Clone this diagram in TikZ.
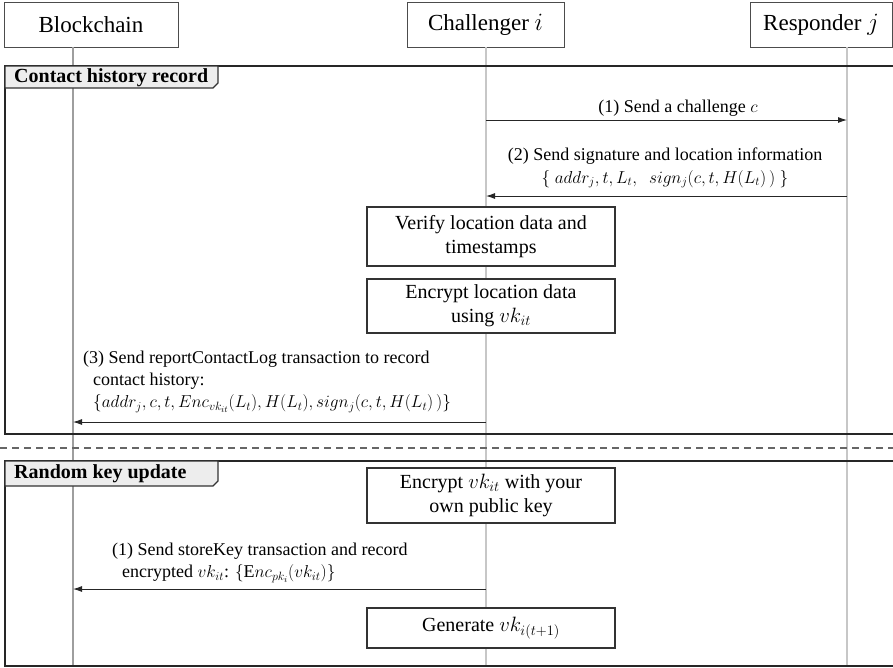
\documentclass[tikz,border=0pt]{standalone}
\usepackage{fontspec}
\setmainfont{Liberation Serif}
\usetikzlibrary{arrows.meta}
\begin{document}
\begin{tikzpicture}[x=1pt,y=-1pt,
  actor/.style={draw=black!70, line width=1pt, fill=white, minimum height=45pt,
    inner sep=0pt, font=\fontsize{23}{27}\selectfont},
  lifeline/.style={draw=black!22, line width=1.8pt},
  chainline/.style={draw=black!38, line width=1.2pt},
  frameline/.style={draw=black!85, line width=2.4pt, line join=miter},
  tabshape/.style={draw=black!80, line width=1.2pt, fill=black!7},
  tablabel/.style={anchor=west, inner sep=0pt, font=\fontsize{20}{24}\selectfont\bfseries},
  actbox/.style={draw=black!80, line width=1.2pt, fill=white, align=center,
    inner sep=0pt, minimum width=248pt, font=\fontsize{20}{24}\selectfont},
  msg/.style={inner sep=0pt, font=\fontsize{18}{22}\selectfont},
  arr/.style={draw=black!85, line width=0.9pt, -{Latex[length=9pt,width=6pt]}},
  sep/.style={draw=black!60, line width=1.4pt, dash pattern=on 7pt off 5pt},
]
\useasboundingbox (0,0) rectangle (893,667);

% participants
\node[actor, minimum width=174pt] (bc) at (91,24.5) {Blockchain};
\node[actor, minimum width=157pt] (ch) at (485.5,24.5) {Challenger $i$};
\node[actor, minimum width=142pt] (rs) at (821,24.5) {Responder $j$};

% lifelines
\coordinate (bcTop) at (73,47);   \coordinate (bcBot) at (73,667);
\coordinate (chTop) at (486,47);  \coordinate (chBot) at (486,667);
\coordinate (rsTop) at (847,47);  \coordinate (rsBot) at (847,667);
\draw[chainline] (bcTop) -- (bcBot);
\draw[lifeline] (chTop) -- (chBot);
\draw[lifeline] (rsTop) -- (rsBot);

% frame: contact history record
\coordinate (f1a) at (900,66);
\coordinate (f1b) at (5,434);
\coordinate (f1c) at (900,434);
\draw[frameline] (f1a) -| (f1b) -- (f1c);
\draw[tabshape] (5,66) -- (218,66) -- (218,83) -- (213,88) -- (5,88) -- cycle;
\node[tablabel] (t1) at (14,77.5) {Contact history record};

% separator between phases
\coordinate (sepL) at (0,448);
\coordinate (sepR) at (893,448);
\draw[sep] (sepL) -- (sepR);

% frame: random key update
\coordinate (f2a) at (900,461);
\coordinate (f2b) at (5,666);
\coordinate (f2c) at (900,666);
\draw[frameline] (f2a) -| (f2b) -- (f2c);
\draw[tabshape] (5,461) -- (218,461) -- (218,481) -- (213,486) -- (5,486) -- cycle;
\node[tablabel] (t2) at (14,473.5) {Random key update};

% contact history messages
\coordinate (m1s) at (486,120); \coordinate (m1e) at (847,120);
\draw[arr] (m1s) -- (m1e);
\node[msg] (l1) at (678,108) {(1) Send a challenge $c$};

\coordinate (m2s) at (847,196); \coordinate (m2e) at (486,196);
\draw[arr] (m2s) -- (m2e);
\node[msg, align=center] (l2) at (665,168)
  {(2) Send signature and location information\\[1pt]
   $\{\ addr_j, t, L_t,\ \ sign_j(c,t,H(L_t)\,)\ \}$};

\node[actbox, minimum height=59pt] (verify) at (491,236.5)
  {Verify location data and\\timestamps};
\node[actbox, minimum height=54pt] (encloc) at (491,306)
  {Encrypt location data\\using $vk_{it}$};

\coordinate (m3s) at (486,422); \coordinate (m3e) at (73,422);
\draw[arr] (m3s) -- (m3e);
\node[msg, anchor=west, align=left] (l3) at (83,382)
  {(3) Send reportContactLog transaction to record\\
   \hspace*{10pt}contact history:\\
   \hspace*{10pt}$\{addr_j, c, t, Enc_{vk_{it}}(L_t), H(L_t), sign_j(c,t,H(L_t)\,)\}$};

% random key update messages
\node[actbox, minimum height=55pt] (encvk) at (491,495.5)
  {Encrypt $vk_{it}$ with your\\own public key};

\coordinate (m4s) at (486,589); \coordinate (m4e) at (73,589);
\draw[arr] (m4s) -- (m4e);
\node[msg, anchor=west, align=left] (l4) at (112,563)
  {(1) Send storeKey transaction and record\\
   \hspace*{10pt}encrypted $vk_{it}$: $\{\mathrm{E}nc_{pk_i}(vk_{it})\}$};

\node[actbox, minimum height=40pt] (gen) at (491,628)
  {Generate $vk_{i(t+1)}$};
\end{tikzpicture}
\end{document}
